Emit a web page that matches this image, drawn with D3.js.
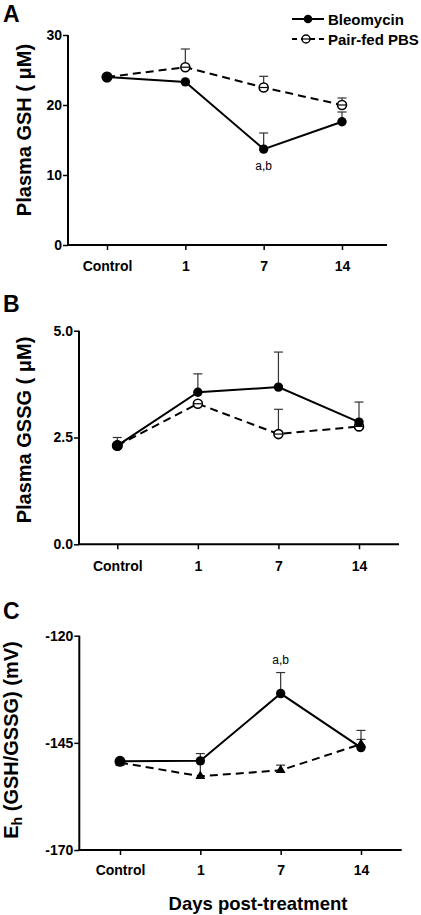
<!DOCTYPE html>
<html>
<head>
<meta charset="utf-8">
<script src="https://cdn.jsdelivr.net/npm/d3@7"></script>
<style>
html,body{margin:0;padding:0;background:#fff;}
svg{display:block;}
text{font-family:"Liberation Sans",Arial,sans-serif;}
</style>
</head>
<body>
<svg id="chart" width="421" height="915"></svg>
<script>
// ---- data ----
const categories = ["Control", "1", "7", "14"];

const gshBleo    = [24.0, 23.3, 13.7, 17.6];
const gshBleoErr = [0, 0, 2.3, 1.4];
const gshPbs     = [24.0, 25.4, 22.5, 20.0];
const gshPbsErr  = [0, 2.6, 1.6, 1.0];
const gshTicks   = [0, 10, 20, 30];

const gssgBleo    = [2.31, 3.56, 3.68, 2.86];
const gssgBleoErr = [0.19, 0.43, 0.82, 0.47];
const gssgPbs     = [2.31, 3.29, 2.58, 2.76];
const gssgPbsErr  = [0, 0, 0.58, 0];
const gssgTicks   = [0.0, 2.5, 5.0];

const ehBleo    = [-149.3, -149.2, -133.5, -146.1];
const ehBleoErr = [0, 1.7, 4.9, 4.0];
const ehPbs     = [-149.6, -152.8, -151.4, -145.3];
const ehPbsErr  = [0, 3.6, 1.2, 1.1];
const ehTicks   = [-170, -145, -120];

const seriesNames = ["Bleomycin", "Pair-fed PBS"];

// ---- layout ----
const hy = f => (v => f(v).replace("\u2212", "-"));
const panels = [
  {letter:"A", ly:22, left:68, right:387, top:35, bottom:245, cx:[107,342], domain:[0,30], ticks:gshTicks, fmt:hy(d3.format("d")),
   bleo:gshBleo, bleoErr:gshBleoErr, pbs:gshPbs, pbsErr:gshPbsErr, pbsMarker:"open",
   ylabel:"Plasma GSH ( \u03bcM)", labX:31, labY:130, catY:271, note:{i:2, v:13.7, dy:21}},
  {letter:"B", ly:312, left:79, right:399, top:330.7, bottom:544.3, cx:[117.3,359], domain:[0,5], ticks:gssgTicks, fmt:hy(d3.format(".1f")),
   bleo:gssgBleo, bleoErr:gssgBleoErr, pbs:gssgPbs, pbsErr:gssgPbsErr, pbsMarker:"open",
   ylabel:"Plasma GSSG ( \u03bcM)", labX:31, labY:430, catY:571, note:null},
  {letter:"C", ly:619, left:79.3, right:401.7, top:635.7, bottom:850, cx:[120,361], domain:[-170,-120], ticks:ehTicks, fmt:hy(d3.format("d")),
   bleo:ehBleo, bleoErr:ehBleoErr, pbs:ehPbs, pbsErr:ehPbsErr, pbsMarker:"triangle",
   ylabel:null, labX:18, labY:740, catY:875, note:{i:2, v:-128.6, dy:-9}}
];

const svg = d3.select("#chart");
const font = "'Liberation Sans', Arial, sans-serif";

panels.forEach(p => {
  const g = svg.append("g");
  const x = d3.scalePoint().domain(categories).range(p.cx);
  const y = d3.scaleLinear().domain(p.domain).range([p.bottom, p.top]);

  // panel letter
  g.append("text").attr("x", 3).attr("y", p.ly).text(p.letter)
    .attr("font-size", 23).attr("font-weight", "bold");

  // y axis
  const yAxis = d3.axisLeft(y).tickValues(p.ticks).tickFormat(p.fmt).tickSize(5).tickSizeOuter(0);
  const ya = g.append("g").attr("transform", `translate(${p.left},0)`).call(yAxis);
  ya.select(".domain").attr("stroke", "#000").attr("stroke-width", 2)
    .attr("d", `M0,${p.top}V${p.bottom}`);
  ya.selectAll(".tick line").attr("stroke", "#000").attr("stroke-width", 1.5);
  ya.selectAll(".tick text").attr("font-size", 14).attr("font-weight", "bold")
    .attr("font-family", font).attr("fill", "#000").attr("x", -6);

  // x axis
  const xAxis = d3.axisBottom(x).tickSize(5).tickSizeOuter(0).tickPadding(12);
  const xa = g.append("g").attr("transform", `translate(0,${p.bottom})`).call(xAxis);
  xa.select(".domain").attr("stroke", "#000").attr("stroke-width", 2)
    .attr("d", `M${p.left - 1},0H${p.right}`);
  xa.selectAll(".tick line").attr("stroke", "#000").attr("stroke-width", 1.5);
  xa.selectAll(".tick text").attr("font-size", 14).attr("font-weight", "bold")
    .attr("font-family", font).attr("fill", "#000")
    .attr("y", null).attr("dy", null)
    .attr("transform", `translate(0,${p.catY - p.bottom})`);

  // y label
  const lab = g.append("text")
    .attr("transform", `translate(${p.labX},${p.labY}) rotate(-90)`)
    .attr("text-anchor", "middle").attr("font-size", 20).attr("font-weight", "bold");
  if (p.ylabel) {
    lab.text(p.ylabel);
  } else {
    lab.append("tspan").text("E");
    lab.append("tspan").text("h").attr("font-size", 14).attr("dy", 4);
    lab.append("tspan").text(" (GSH/GSSG) (mV)").attr("dy", -4);
  }

  // error bars (upper)
  const errs = [
    {vals:p.pbs, err:p.pbsErr},
    {vals:p.bleo, err:p.bleoErr}
  ];
  errs.forEach(s => {
    categories.forEach((c, i) => {
      if (!s.err[i]) return;
      const cxp = x(c), y0 = y(s.vals[i]), y1 = y(s.vals[i] + s.err[i]);
      g.append("line").attr("x1", cxp).attr("x2", cxp).attr("y1", y0).attr("y2", y1)
        .attr("stroke", "#333").attr("stroke-width", 1.2);
      g.append("line").attr("x1", cxp - 4.5).attr("x2", cxp + 4.5).attr("y1", y1).attr("y2", y1)
        .attr("stroke", "#333").attr("stroke-width", 1.2);
    });
  });

  const line = d3.line().x((d, i) => x(categories[i])).y(d => y(d));

  // PBS dashed
  g.append("path").datum(p.pbs).attr("d", line).attr("fill", "none")
    .attr("stroke", "#000").attr("stroke-width", 2).attr("stroke-dasharray", "8,5");
  // Bleo solid
  g.append("path").datum(p.bleo).attr("d", line).attr("fill", "none")
    .attr("stroke", "#000").attr("stroke-width", 2);

  // PBS markers
  if (p.pbsMarker === "open") {
    g.selectAll(null).data(p.pbs).join("circle")
      .attr("cx", (d, i) => x(categories[i])).attr("cy", d => y(d)).attr("r", 4.5)
      .attr("fill", "#fff").attr("stroke", "#000").attr("stroke-width", 1.6);
    g.selectAll(null).data(p.pbs).join("line")
      .attr("x1", (d, i) => x(categories[i]) - 4).attr("x2", (d, i) => x(categories[i]) + 4)
      .attr("y1", d => y(d)).attr("y2", d => y(d)).attr("stroke", "#000").attr("stroke-width", 1.2);
  } else {
    const tri = d3.symbol().type(d3.symbolTriangle).size(42);
    g.selectAll(null).data(p.pbs).join("path")
      .attr("d", tri)
      .attr("transform", (d, i) => `translate(${x(categories[i])},${y(d)})`)
      .attr("fill", "#000");
  }
  // Bleo markers
  g.selectAll(null).data(p.bleo).join("circle")
    .attr("cx", (d, i) => x(categories[i])).attr("cy", d => y(d))
    .attr("r", (d, i) => i === 0 ? 5.5 : 4.7).attr("fill", "#000");

  // annotation
  if (p.note) {
    g.append("text").attr("x", x(categories[p.note.i])).attr("y", y(p.note.v) + p.note.dy)
      .attr("text-anchor", "middle").attr("font-size", 12).text("a,b");
  }
});

// x title
svg.append("text").attr("x", 258).attr("y", 910).attr("text-anchor", "middle")
  .attr("font-size", 18.5).attr("font-weight", "bold").text("Days post-treatment");

// legend
const legend = svg.append("g");
[0, 1].forEach(k => {
  const ly = 19 + k * 20;
  legend.append("line").attr("x1", 292).attr("x2", 324).attr("y1", ly).attr("y2", ly)
    .attr("stroke", "#000").attr("stroke-width", 2)
    .attr("stroke-dasharray", k ? "5,4" : null);
  if (k === 0) {
    legend.append("circle").attr("cx", 308).attr("cy", ly).attr("r", 4.3).attr("fill", "#000");
  } else {
    legend.append("circle").attr("cx", 306).attr("cy", ly).attr("r", 4).attr("fill", "#fff")
      .attr("stroke", "#000").attr("stroke-width", 1.5);
    legend.append("line").attr("x1", 302).attr("x2", 310).attr("y1", ly).attr("y2", ly)
      .attr("stroke", "#000").attr("stroke-width", 1.2);
  }
  legend.append("text").attr("x", 328).attr("y", ly + 5.5).attr("font-size", 15)
    .attr("font-weight", "bold").text(seriesNames[k]);
});
</script>
</body>
</html>
